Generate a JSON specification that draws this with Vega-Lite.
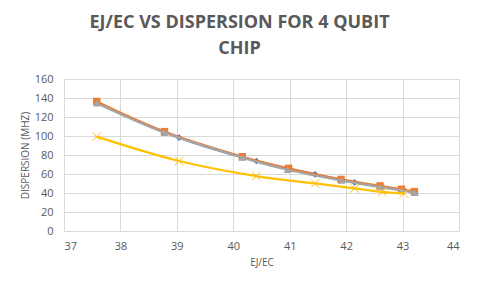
{
  "$schema": "https://vega.github.io/schema/vega-lite/v6.json",
  "width": 395,
  "height": 152,
  "autosize": {"type": "none"},
  "padding": {"left": 64, "top": 79, "right": 21, "bottom": 58},
  "background": "white",
  "title": {
    "text": ["EJ/EC VS DISPERSION FOR 4 QUBIT", "CHIP"],
    "font": "Open Sans",
    "fontSize": 18,
    "fontWeight": "bold",
    "color": "#595959",
    "anchor": "middle",
    "frame": "group",
    "dx": -22,
    "offset": 15,
    "lineHeight": 26
  },
  "config": {
    "view": {"stroke": null},
    "axis": {
      "labelFont": "Open Sans",
      "titleFont": "Open Sans",
      "labelColor": "#595959",
      "titleColor": "#595959",
      "labelFontSize": 11,
      "titleFontSize": 10,
      "titleFontWeight": "normal",
      "gridColor": "#d9d9d9",
      "gridWidth": 1,
      "domain": false,
      "ticks": false
    }
  },
  "data": {
    "values": [
      {"series": "A", "x": 37.58, "y": 135},
      {"series": "A", "x": 39.04, "y": 98.3},
      {"series": "A", "x": 40.41, "y": 73.7},
      {"series": "A", "x": 41.45, "y": 59.6},
      {"series": "A", "x": 42.15, "y": 51.2},
      {"series": "A", "x": 42.64, "y": 46.5},
      {"series": "A", "x": 43.02, "y": 43},
      {"series": "B", "x": 37.58, "y": 136.4},
      {"series": "B", "x": 38.78, "y": 104.6},
      {"series": "B", "x": 40.16, "y": 78.2},
      {"series": "B", "x": 40.98, "y": 66},
      {"series": "B", "x": 41.91, "y": 54.3},
      {"series": "B", "x": 42.6, "y": 47.5},
      {"series": "B", "x": 42.98, "y": 44},
      {"series": "B", "x": 43.21, "y": 41.5},
      {"series": "C", "x": 37.58, "y": 134.5},
      {"series": "C", "x": 38.78, "y": 103.5},
      {"series": "C", "x": 40.16, "y": 77.3},
      {"series": "C", "x": 40.96, "y": 64.5},
      {"series": "C", "x": 41.92, "y": 53},
      {"series": "C", "x": 42.6, "y": 46.3},
      {"series": "C", "x": 42.98, "y": 42.8},
      {"series": "C", "x": 43.22, "y": 40.3},
      {"series": "D", "x": 37.58, "y": 99.4},
      {"series": "D", "x": 39.04, "y": 73.7},
      {"series": "D", "x": 40.41, "y": 57.8},
      {"series": "D", "x": 41.45, "y": 50.1},
      {"series": "D", "x": 42.15, "y": 44.8},
      {"series": "D", "x": 42.64, "y": 41.2},
      {"series": "D", "x": 43.02, "y": 39.5}
    ]
  },
  "encoding": {
    "x": {
      "field": "x", "type": "quantitative",
      "scale": {"domain": [37, 44], "nice": false, "zero": false},
      "axis": {"title": "EJ/EC", "values": [37, 38, 39, 40, 41, 42, 43, 44], "labelPadding": 9, "titlePadding": 6}
    },
    "y": {
      "field": "y", "type": "quantitative",
      "scale": {"domain": [0, 160], "nice": false},
      "axis": {"title": "DISPERSION (MHZ)", "values": [0, 20, 40, 60, 80, 100, 120, 140, 160], "labelPadding": 11, "titlePadding": 4}
    }
  },
  "layer": [
    {
      "transform": [{"filter": "datum.series == 'A'"}],
      "layer": [
        {"mark": {"type": "line", "color": "#4472C4", "strokeWidth": 2.25, "interpolate": "catmull-rom"}},
        {"mark": {"type": "point", "shape": "diamond", "filled": true, "color": "#4472C4", "size": 45, "opacity": 1}}
      ]
    },
    {
      "transform": [{"filter": "datum.series == 'B'"}],
      "layer": [
        {"mark": {"type": "line", "color": "#ED7D31", "strokeWidth": 2.25, "interpolate": "catmull-rom"}},
        {"mark": {"type": "point", "shape": "square", "filled": true, "color": "#ED7D31", "size": 55, "opacity": 1}}
      ]
    },
    {
      "transform": [{"filter": "datum.series == 'C'"}],
      "layer": [
        {"mark": {"type": "line", "color": "#A5A5A5", "strokeWidth": 2.25, "interpolate": "catmull-rom"}},
        {"mark": {"type": "point", "shape": "triangle-up", "filled": true, "color": "#A5A5A5", "size": 55, "opacity": 1}}
      ]
    },
    {
      "transform": [{"filter": "datum.series == 'D'"}],
      "layer": [
        {"mark": {"type": "line", "color": "#FFC000", "strokeWidth": 2.25, "interpolate": "catmull-rom"}},
        {"mark": {"type": "point", "shape": "M-1,-1L1,1M-1,1L1,-1", "filled": false, "color": "#FFC000", "strokeWidth": 1, "size": 70, "opacity": 1}}
      ]
    }
  ]
}
